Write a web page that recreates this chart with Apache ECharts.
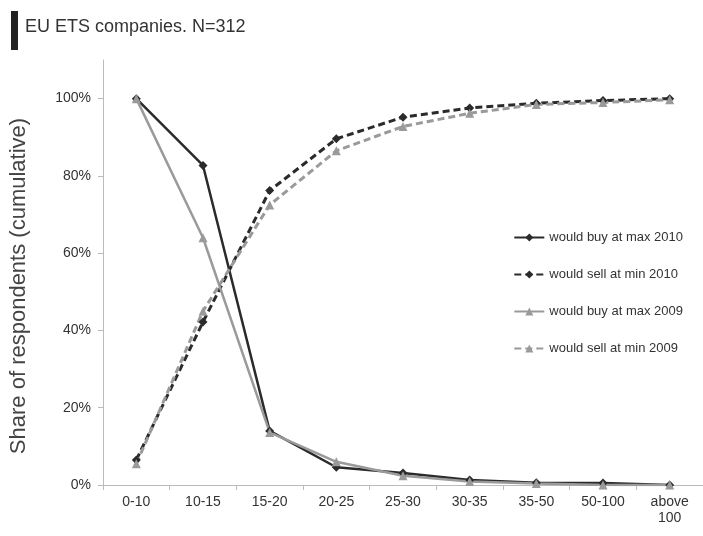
<!DOCTYPE html>
<html><head><meta charset="utf-8">
<script src="https://cdn.jsdelivr.net/npm/echarts@6/dist/echarts.min.js"></script>
<style>html,body{margin:0;padding:0;background:#fff}#c{width:703px;height:536px}</style>
</head><body><div id="c"></div>
<script>
const categories = ['0-10','10-15','15-20','20-25','25-30','30-35','35-50','50-100','above\n100'];
const buyMax2010 = [100, 82.7, 14, 4.6, 3.1, 1.3, 0.6, 0.5, 0];
const sellMin2010 = [6.5, 42.2, 76.2, 89.6, 95.2, 97.6, 98.8, 99.5, 100];
const buyMax2009 = [100, 64, 13.6, 6, 2.4, 0.9, 0.4, 0, 0];
const sellMin2009 = [5.5, 45, 72.5, 86.5, 92.8, 96.2, 98.5, 99, 99.7];

const dark = '#2b2b2b', gray = '#9a9a9a';
const FONT = '"Liberation Sans", Arial, sans-serif';
const chart = echarts.init(document.getElementById('c'));
function mk(name, data, color, dashed, symbol) {
  return {
    name, type: 'line', data, symbol, symbolSize: 9,
    lineStyle: { color, width: dashed ? 3 : 2.5, type: dashed ? [7, 4] : 'solid' },
    itemStyle: { color },
    emphasis: { disabled: true }, animation: false
  };
}
chart.setOption({
  animation: false,
  textStyle: { fontFamily: FONT },
  graphic: [
    { type: 'rect', shape: { x: 11, y: 11, width: 7, height: 39 }, style: { fill: '#222' } },
    { type: 'text', left: 25, top: 18, style: { text: 'EU ETS companies. N=312', fontSize: 18, fill: '#333', fontFamily: FONT } },
    { type: 'text', x: 19, y: 286, rotation: Math.PI / 2,
      style: { text: 'Share of respondents (cumulative)', fontSize: 22, fill: '#444', align: 'center', verticalAlign: 'middle', fontFamily: FONT } }
  ],
  legend: {
    orient: 'vertical', right: 15, top: 226, itemGap: 24, itemWidth: 30, itemHeight: 10,
    textStyle: { fontSize: 13, color: '#333', fontFamily: FONT },
    data: ['would buy at max 2010','would sell at min 2010','would buy at max 2009','would sell at min 2009']
  },
  grid: { left: 103, right: -3, top: 60, bottom: 51 },
  xAxis: {
    type: 'category', data: categories, boundaryGap: true,
    axisLine: { lineStyle: { color: '#bbb', width: 1 } },
    axisTick: { show: true, length: 5, lineStyle: { color: '#bbb' } },
    axisLabel: { color: '#333', fontSize: 14, margin: 9, lineHeight: 16, fontFamily: FONT }
  },
  yAxis: {
    type: 'value', min: 0, max: 110, interval: 20,
    splitLine: { show: false },
    axisLine: { show: true, lineStyle: { color: '#bbb' } },
    axisTick: { show: true, length: 5, lineStyle: { color: '#bbb' } },
    axisLabel: { color: '#333', fontSize: 14, margin: 12, showMaxLabel: false, formatter: v => v <= 100 ? v + '%' : '', fontFamily: FONT }
  },
  series: [
    mk('would buy at max 2010', buyMax2010, dark, false, 'diamond'),
    mk('would sell at min 2010', sellMin2010, dark, true, 'diamond'),
    mk('would buy at max 2009', buyMax2009, gray, false, 'triangle'),
    mk('would sell at min 2009', sellMin2009, gray, true, 'triangle')
  ]
});
</script></body></html>
